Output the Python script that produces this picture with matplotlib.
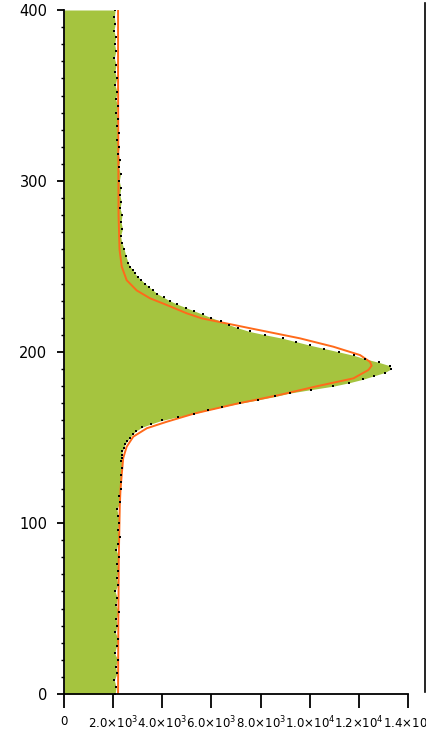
import matplotlib
matplotlib.use("Agg")
import matplotlib.pyplot as plt
from matplotlib.lines import Line2D
from matplotlib.ticker import MultipleLocator

# histogram (horizontal): bin value -> counts (thousands)
hist_y = [0, 4, 8, 12, 16, 20, 24, 28, 32, 36, 40, 44, 48, 52, 56, 60, 64, 68,
          72, 76, 80, 84, 88, 92, 96, 100, 104, 108, 112, 116, 120, 124, 128,
          132, 136,
          138, 140, 142, 144, 146, 148, 150, 152, 154, 156, 158, 160, 162, 164,
          166, 168, 170, 172, 174, 176, 178, 180, 182, 184, 186, 188, 190, 192,
          194, 196, 198, 200, 202, 204, 206, 208, 210, 212, 214, 216, 218, 220,
          222, 224, 226, 228, 230, 232, 234, 236, 238, 240, 242, 244, 246, 248,
          250,
          252, 256, 260, 264, 268, 272, 276, 280, 284, 288, 292, 296, 300, 304,
          308, 312, 316, 320, 324, 328, 332, 336, 340, 344, 348, 352, 356, 360,
          364, 368, 372, 376, 380, 384, 388, 392, 396, 400]
hist_k = [2.08, 2.12, 2.05, 2.15, 2.10, 2.18, 2.06, 2.14, 2.20, 2.09, 2.16, 2.12,
          2.22, 2.11, 2.17, 2.08, 2.19, 2.14, 2.21, 2.16, 2.23, 2.13, 2.19, 2.26,
          2.18, 2.24, 2.21, 2.15, 2.27, 2.24, 2.30, 2.33, 2.31, 2.36, 2.34,
          2.36, 2.35, 2.38, 2.44, 2.48, 2.58, 2.68, 2.80, 2.95, 3.18, 3.55, 3.98,
          4.62, 5.30, 5.85, 6.45, 7.15, 7.90, 8.60, 9.20, 10.05, 10.95, 11.60,
          12.15, 12.60, 13.05, 13.30, 13.25, 12.80, 12.25, 11.80, 11.20, 10.60,
          10.00, 9.45, 8.90, 8.20, 7.55, 7.10, 6.70, 6.40, 6.00, 5.65, 5.30, 4.95,
          4.60, 4.30, 4.05, 3.80, 3.63, 3.45, 3.30, 3.15, 3.00, 2.88, 2.80, 2.68,
          2.62, 2.52, 2.45, 2.35, 2.30, 2.38, 2.32, 2.36, 2.28, 2.33, 2.27, 2.31,
          2.25, 2.30, 2.22, 2.27, 2.20, 2.25, 2.17, 2.23, 2.15, 2.19, 2.12, 2.18,
          2.10, 2.16, 2.08, 2.14, 2.07, 2.12, 2.05, 2.11, 2.06, 2.10, 2.03, 2.09,
          2.05, 2.08]

# fitted curve
fit_y = [0, 40, 80, 110, 120, 130, 138, 144.6, 150.5, 155.4, 159.2, 164, 167,
         170, 172, 175, 180, 184.6, 189.5, 192, 194.3, 198.2, 203.1, 208, 213.9,
         219.7, 222.6, 227.5, 231.4, 236, 242, 249.9, 260, 280, 320, 360, 400]
fit_k = [2.20, 2.21, 2.23, 2.27, 2.30, 2.36, 2.41, 2.55, 2.82, 3.37, 4.18, 5.30,
         6.20, 7.10, 7.80, 8.80, 10.30, 11.78, 12.39, 12.52, 12.45, 12.05, 10.96,
         9.60, 7.57, 5.60, 5.00, 4.18, 3.50, 2.96, 2.55, 2.35, 2.26, 2.22, 2.21,
         2.20, 2.20]

xticks = [0, 2000, 4000, 6000, 8000, 10000, 12000, 14000]
xticklabels = ["0", r"$2.0{\times}10^{3}$", r"$4.0{\times}10^{3}$",
               r"$6.0{\times}10^{3}$", r"$8.0{\times}10^{3}$",
               r"$1.0{\times}10^{4}$", r"$1.2{\times}10^{4}$",
               r"$1.4{\times}10^{4}$"]

hist_x = [k * 1000 for k in hist_k]
fit_x = [k * 1000 for k in fit_k]

W, H = 427, 732
fig = plt.figure(figsize=(W / 100, H / 100), dpi=100)
ax = fig.add_axes([64 / W, 1 - 694 / H, (408 - 64) / W, (694 - 10) / H])

green = "#a5c43f"
orange = "#ff6a1a"

ax.fill_betweenx(hist_y, 0, hist_x, color=green, lw=0, zorder=1)
ax.plot(hist_x, hist_y, ls="none", marker="s", ms=1.5, color="black",
        mew=0, zorder=3)
ax.plot(fit_x, fit_y, color=orange, lw=1.4, zorder=2)

ax.set_xlim(0, 14000)
ax.set_ylim(0, 400)

for s in ["top", "right"]:
    ax.spines[s].set_visible(False)
ax.spines["left"].set_linewidth(1.3)
ax.spines["bottom"].set_linewidth(1.3)

ax.set_xticks(xticks)
ax.set_xticklabels(xticklabels)
ax.set_yticks([0, 100, 200, 300, 400])
ax.yaxis.set_minor_locator(MultipleLocator(10))
ax.tick_params(axis="x", direction="out", length=10, width=1.3, pad=5,
               labelsize=8.5)
ax.tick_params(axis="y", which="major", direction="out", length=5, width=1.3,
               pad=7, labelsize=10.5)
ax.tick_params(axis="y", which="minor", direction="out", length=2.2, width=1)

# stray vertical line at the right edge
fig.add_artist(Line2D([425 / W, 425 / W], [1 - 692 / H, 1 - 3 / H],
                      color="black", lw=1.2))

fig.savefig("out.png", dpi=100)
